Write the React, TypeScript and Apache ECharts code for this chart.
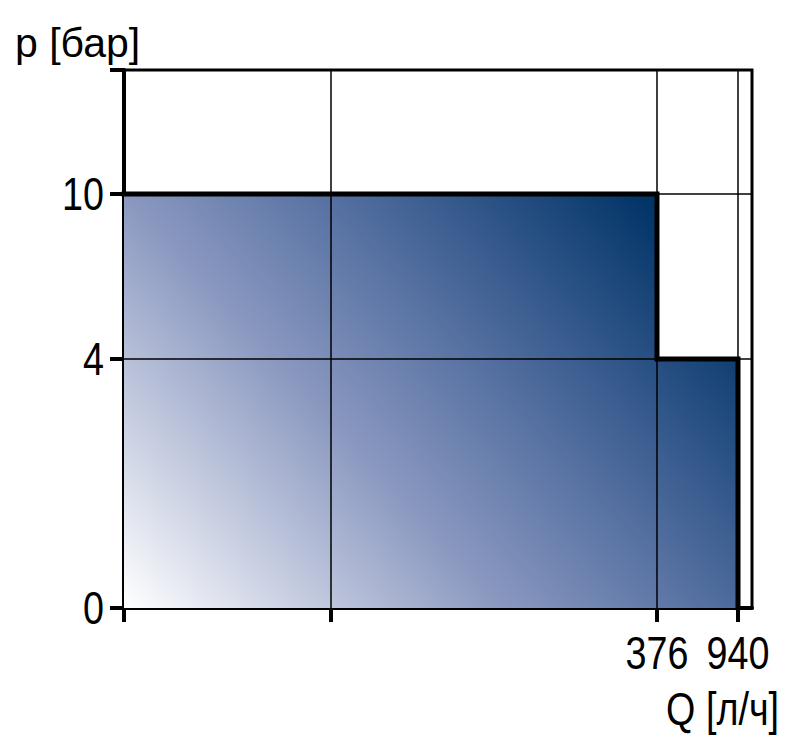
import React, { useEffect, useRef } from "react";
import * as echarts from "echarts";

// ---- data ----
const flowTicks = [0, 100, 376, 940];
const flowTickLabels = ["", "", "376", "940"];
const pressureTicks = [0, 4, 10];
const pressureTickLabels = ["0", "4", "10"];
const stepFlow = [0, 376, 376, 940, 940];
const stepPressure = [10, 10, 4, 4, 0];
const flowGrid = [100, 376, 940];
const pressureGrid = [4, 10];
const xTitle = "Q [л/ч]";
const yTitle = "p [бар]";

// ---- broken (piecewise linear) axis scales, display units ----
const X_DOMAIN = [0, 100, 376, 940];
const X_RANGE = [0, 207, 533, 614];
const X_MAX = 628;
const Y_DOMAIN = [0, 4, 10];
const Y_RANGE = [0, 249, 414];
const Y_MAX = 538;

function piecewise(domain: number[], range: number[], v: number) {
  for (let i = 0; i < domain.length - 1; i++) {
    if (v <= domain[i + 1] || i === domain.length - 2) {
      const t = (v - domain[i]) / (domain[i + 1] - domain[i]);
      return range[i] + t * (range[i + 1] - range[i]);
    }
  }
  return range[0];
}
const fx = (v: number) => piecewise(X_DOMAIN, X_RANGE, v);
const fy = (v: number) => piecewise(Y_DOMAIN, Y_RANGE, v);

const FONT = "'Liberation Sans', Arial, sans-serif";
const NARROW = 0.82;

export default function App() {
  const ref = useRef<HTMLDivElement>(null);
  useEffect(() => {
    if (!ref.current) return;
    const chart = echarts.init(ref.current, null, { renderer: "svg" });
    const xTickPos = flowTicks.map(fx);
    const yTickPos = [...pressureTicks.map(fy), Y_MAX];

    chart.setOption({
      animation: false,
      backgroundColor: "#ffffff",
      grid: {
        left: 124,
        top: 70,
        width: X_MAX,
        height: Y_MAX,
        show: true,
        borderColor: "#000",
        borderWidth: 3,
        backgroundColor: "transparent",
      },
      xAxis: {
        type: "value",
        min: 0,
        max: X_MAX,
        axisLine: { show: true, onZero: false, lineStyle: { color: "#000", width: 4 } },
        axisTick: {
          show: true,
          customValues: xTickPos,
          length: 14,
          lineStyle: { color: "#000", width: 4 },
        },
        splitLine: { show: false },
        axisLabel: { show: false },
      },
      yAxis: {
        type: "value",
        min: 0,
        max: Y_MAX,
        axisLine: { show: true, onZero: false, lineStyle: { color: "#000", width: 4 } },
        axisTick: {
          show: true,
          customValues: yTickPos,
          length: 14,
          lineStyle: { color: "#000", width: 4 },
        },
        splitLine: { show: false },
        axisLabel: { show: false },
      },
      series: [
        {
          type: "line",
          data: stepFlow.map((f, i) => [fx(f), fy(stepPressure[i])]),
          symbol: "none",
          lineStyle: { color: "#000", width: 5, join: "miter", cap: "square" },
          areaStyle: {
            opacity: 1,
            color: new echarts.graphic.LinearGradient(0, 1, 1.064, 0.343, [
              { offset: 0, color: "#ffffff" },
              { offset: 0.42, color: "#8a98c0" },
              { offset: 0.68, color: "#4d6a9c" },
              { offset: 1, color: "#003366" },
            ]),
          },
          z: 2,
          markLine: {
            silent: true,
            symbol: ["none", "none"],
            label: { show: false },
            lineStyle: { color: "#000", width: 1.5, type: "solid" },
            data: [
              ...flowGrid.map((v) => ({ xAxis: fx(v) })),
              ...pressureGrid.map((v) => ({ yAxis: fy(v) })),
            ],
          },
        },
      ],
    });

    // tick labels placed through the axes' own scales
    const graphics: any[] = [];
    flowTicks.forEach((v, i) => {
      if (!flowTickLabels[i]) return;
      const p = chart.convertToPixel({ gridIndex: 0 }, [fx(v), 0]) as number[];
      graphics.push({
        type: "text",
        x: p[0],
        y: p[1] + 45,
        scaleX: NARROW,
        style: {
          text: flowTickLabels[i],
          fontSize: 46,
          fontFamily: FONT,
          fill: "#000",
          align: "center",
          verticalAlign: "middle",
        },
      });
    });
    pressureTicks.forEach((v, i) => {
      const p = chart.convertToPixel({ gridIndex: 0 }, [0, fy(v)]) as number[];
      graphics.push({
        type: "text",
        x: p[0] - 20,
        y: p[1],
        scaleX: NARROW,
        style: {
          text: pressureTickLabels[i],
          fontSize: 46,
          fontFamily: FONT,
          fill: "#000",
          align: "right",
          verticalAlign: "middle",
        },
      });
    });
    graphics.push({
      type: "text",
      x: 15,
      y: 43,
      style: {
        text: yTitle,
        fontSize: 41,
        fontFamily: FONT,
        fill: "#000",
        align: "left",
        verticalAlign: "middle",
      },
    });
    graphics.push({
      type: "text",
      x: 779,
      y: 709,
      scaleX: NARROW,
      style: {
        text: xTitle,
        fontSize: 46,
        fontFamily: FONT,
        fill: "#000",
        align: "right",
        verticalAlign: "middle",
      },
    });
    chart.setOption({ graphic: graphics });

    return () => chart.dispose();
  }, []);
  return (
    <div
      ref={ref}
      style={{ position: "fixed", left: 0, top: 0, width: 800, height: 746, background: "#fff" }}
    />
  );
}
